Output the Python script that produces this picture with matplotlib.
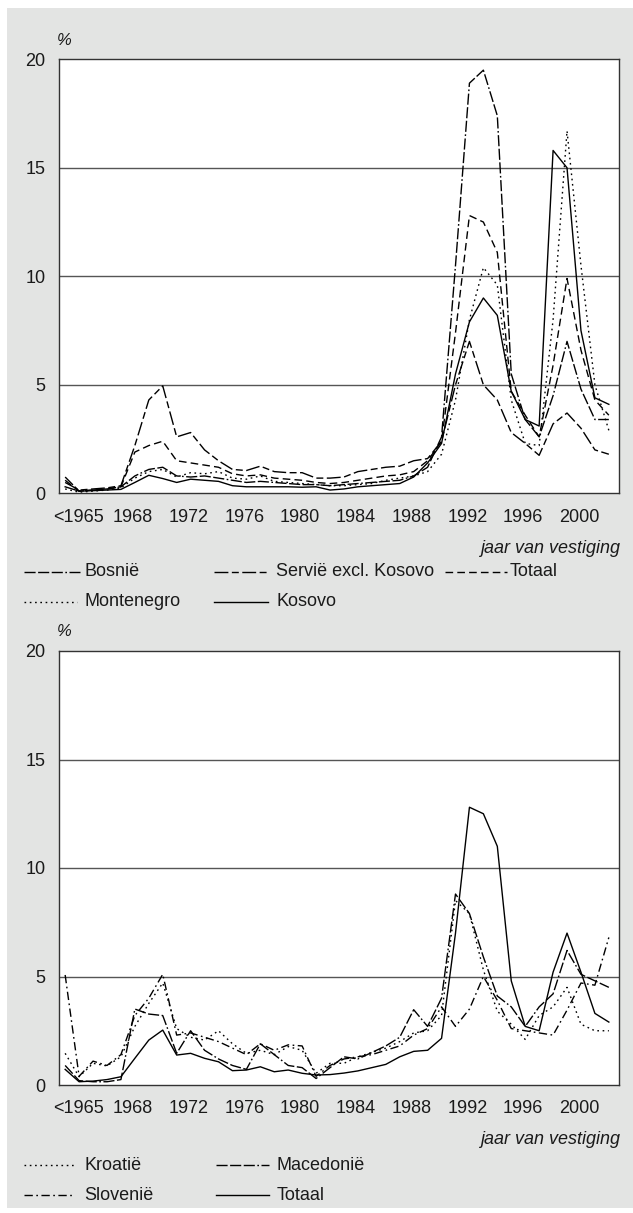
import numpy as np
import matplotlib.pyplot as plt
from matplotlib.lines import Line2D
from matplotlib.patches import Rectangle

plt.rcParams["font.family"] = ["Liberation Sans", "DejaVu Sans"]

W, H = 633, 1213
BG = "#e3e4e3"
FS = 13

# categories: <1965, 1965 ... 2003
YEARS = ["<1965"] + [str(y) for y in range(1965, 2004)]
TICK_LABELS = ["<1965", "1968", "1972", "1976", "1980", "1984",
               "1988", "1992", "1996", "2000"]

# top panel
bosnie = [0.75, 0.1, 0.15, 0.2, 0.3, 0.8, 1.1, 1.2, 0.8, 0.75,
          0.8, 0.7, 0.6, 0.5, 0.55, 0.5, 0.45, 0.4, 0.4, 0.35,
          0.4, 0.45, 0.5, 0.55, 0.6, 0.8, 1.2, 2.6, 10.5, 18.9,
          19.5, 17.4, 5.5, 3.4, 2.6, 4.5, 7.0, 4.8, 3.4, 3.4]
servie = [0.5, 0.15, 0.2, 0.25, 0.35, 2.2, 4.3, 4.95, 2.6, 2.8,
          2.0, 1.5, 1.1, 1.05, 1.25, 1.0, 0.95, 0.95, 0.7, 0.7,
          0.75, 1.0, 1.1, 1.2, 1.25, 1.5, 1.6, 2.4, 5.0, 7.0,
          5.0, 4.3, 2.8, 2.3, 1.75, 3.2, 3.7, 3.0, 2.0, 1.8]
totaal_top = [0.6, 0.1, 0.15, 0.2, 0.3, 1.9, 2.2, 2.4, 1.5, 1.4,
              1.3, 1.2, 0.9, 0.8, 0.85, 0.7, 0.65, 0.6, 0.5, 0.45,
              0.5, 0.6, 0.7, 0.8, 0.85, 1.0, 1.5, 2.4, 7.4, 12.8,
              12.5, 11.1, 4.7, 3.6, 2.6, 5.9, 9.9, 6.6, 4.3, 3.6]
montenegro = [0.2, 0.05, 0.1, 0.15, 0.25, 0.7, 1.0, 1.1, 0.75, 0.95,
              0.9, 1.0, 0.7, 0.65, 0.8, 0.55, 0.5, 0.45, 0.4, 0.35,
              0.35, 0.4, 0.45, 0.6, 0.7, 0.8, 1.0, 1.8, 4.3, 8.0,
              10.4, 9.6, 4.3, 2.3, 2.2, 8.0, 16.7, 10.5, 5.0, 2.9]
kosovo = [0.3, 0.1, 0.12, 0.15, 0.18, 0.5, 0.83, 0.68, 0.5, 0.65,
          0.6, 0.55, 0.35, 0.3, 0.3, 0.3, 0.3, 0.28, 0.3, 0.15,
          0.2, 0.3, 0.35, 0.4, 0.45, 0.75, 1.4, 2.3, 5.5, 7.9,
          9.0, 8.2, 4.7, 3.4, 3.1, 15.8, 15.0, 7.5, 4.4, 4.1]

# bottom panel
kroatie = [1.46, 0.38, 1.0, 0.88, 1.3, 2.7, 3.76, 4.7, 2.6, 2.2,
           2.07, 2.5, 1.9, 1.46, 1.6, 1.4, 1.77, 1.6, 0.54, 1.0,
           1.0, 1.3, 1.5, 1.7, 2.0, 2.4, 2.5, 3.2, 8.5, 7.9,
           5.3, 3.4, 2.8, 2.1, 3.2, 3.6, 4.5, 2.8, 2.5, 2.5]
macedonie = [0.9, 0.2, 0.15, 0.15, 0.25, 3.5, 3.27, 3.2, 1.46, 2.5,
             1.6, 1.2, 0.9, 0.72, 1.9, 1.4, 0.9, 0.8, 0.3, 0.8,
             1.3, 1.2, 1.5, 1.8, 2.2, 3.47, 2.7, 4.0, 8.8, 7.9,
             5.9, 4.1, 3.6, 2.7, 3.6, 4.2, 6.2, 5.1, 4.8, 4.5]
slovenie = [5.07, 0.4, 1.1, 0.9, 1.4, 3.2, 4.0, 5.1, 2.3, 2.4,
            2.2, 2.0, 1.7, 1.4, 1.9, 1.6, 1.85, 1.8, 0.4, 0.9,
            1.2, 1.3, 1.4, 1.6, 1.8, 2.3, 2.6, 3.6, 2.7, 3.5,
            5.0, 3.9, 2.6, 2.5, 2.4, 2.3, 3.45, 4.7, 4.6, 6.8]
totaal_bottom = [0.72, 0.15, 0.18, 0.25, 0.38, 1.23, 2.07, 2.53, 1.38, 1.46,
                 1.23, 1.07, 0.66, 0.69, 0.84, 0.61, 0.69, 0.54, 0.46, 0.48,
                 0.55, 0.65, 0.8, 0.95, 1.3, 1.55, 1.6, 2.15, 7.0, 12.8,
                 12.5, 11.0, 4.8, 2.7, 2.5, 5.2, 7.0, 5.2, 3.3, 2.9]

SOLID = "-"
DOTTED = (0, (1.2, 2.6))
LONG_DASH_DOT = (0, (8, 1.8, 8, 1.8, 8, 1.8, 1.2, 1.8))
LONG_SHORT = (0, (10, 2.5, 5, 2.5))
DASHED = (0, (5.5, 3))
DASH_DOT = (0, (6, 2.5, 1.2, 2.5))

TOP_SERIES = [
    ("Bosnië", bosnie, LONG_DASH_DOT),
    ("Servië excl. Kosovo", servie, LONG_SHORT),
    ("Totaal", totaal_top, DASHED),
    ("Montenegro", montenegro, DOTTED),
    ("Kosovo", kosovo, SOLID),
]
BOTTOM_SERIES = [
    ("Kroatië", kroatie, DOTTED),
    ("Macedonië", macedonie, LONG_DASH_DOT),
    ("Slovenië", slovenie, DASH_DOT),
    ("Totaal", totaal_bottom, SOLID),
]


def fx(px):
    return px / W


def fy(py):
    return 1 - py / H


def draw_panel(fig, top_px, series):
    ax = fig.add_axes([fx(59.3), fy(top_px + 434), 560 / W, 434 / H])
    x = np.arange(len(YEARS))

    for label, values, style in series:
        ax.plot(x, values, color="black", linewidth=1.0,
                linestyle=style, dash_capstyle="butt", label=label)

    ax.set_xlim(-0.42, 39.75)
    ax.set_ylim(0, 20)

    ax.set_yticks([0, 5, 10, 15, 20])
    ax.set_yticklabels(["0", "5", "10", "15", "20"])
    ticks = [YEARS.index(t) + 0.85 for t in TICK_LABELS]
    ticks[0] += 0.1
    ax.set_xticks(ticks)
    ax.set_xticklabels(TICK_LABELS)

    ax.tick_params(length=0, labelsize=FS, colors="#1a1a1a")
    ax.tick_params(axis="y", pad=10)
    ax.tick_params(axis="x", pad=11)

    for v in [5, 10, 15]:
        ax.axhline(v, color="#555555", linewidth=1.0, zorder=0)

    for sp in ax.spines.values():
        sp.set_color("#333333")
        sp.set_linewidth(1.0)

    fig.text(fx(64), fy(top_px - 19), "%", fontsize=FS - 1,
             style="italic", ha="center", va="center", color="#1a1a1a")
    fig.text(fx(620), fy(top_px + 489), "jaar van vestiging",
             fontsize=FS, style="italic", ha="right", va="center",
             color="#1a1a1a")
    return ax


def draw_legend(fig, items):
    # items: (label, style, line x0, line x1, text x, row y)
    for label, style, x0, x1, tx, py in items:
        fig.add_artist(Line2D([fx(x0), fx(x1)], [fy(py), fy(py)],
                              transform=fig.transFigure, color="black",
                              linewidth=1.0, linestyle=style,
                              dash_capstyle="butt"))
        fig.text(fx(tx), fy(py), label, fontsize=FS, ha="left",
                 va="center", color="#1a1a1a")


def main():
    fig = plt.figure(figsize=(W / 100, H / 100), dpi=100)
    fig.patch.set_facecolor("white")
    fig.add_artist(Rectangle((fx(7.5), fy(1208)), 1 - fx(7.5),
                             fy(8) - fy(1208), transform=fig.transFigure,
                             facecolor=BG, edgecolor="none", zorder=-10))

    draw_panel(fig, 59.3, TOP_SERIES)
    draw_panel(fig, 651.0, BOTTOM_SERIES)

    draw_legend(fig, [
        ("Bosnië", LONG_DASH_DOT, 24, 80, 84, 571.5),
        ("Servië excl. Kosovo", LONG_SHORT, 214, 268, 276, 571.5),
        ("Totaal", DASHED, 445, 507, 510, 571.5),
        ("Montenegro", DOTTED, 24, 77, 84, 601.5),
        ("Kosovo", SOLID, 214, 268, 276, 601.5),
    ])
    draw_legend(fig, [
        ("Kroatië", DOTTED, 24, 76, 84, 1165),
        ("Macedonië", LONG_DASH_DOT, 216, 269, 277, 1165),
        ("Slovenië", DASH_DOT, 24, 74, 84, 1195),
        ("Totaal", SOLID, 216, 269, 277, 1195),
    ])

    fig.savefig("out.png", dpi=100, facecolor="white")
    plt.close(fig)


if __name__ == "__main__":
    main()
